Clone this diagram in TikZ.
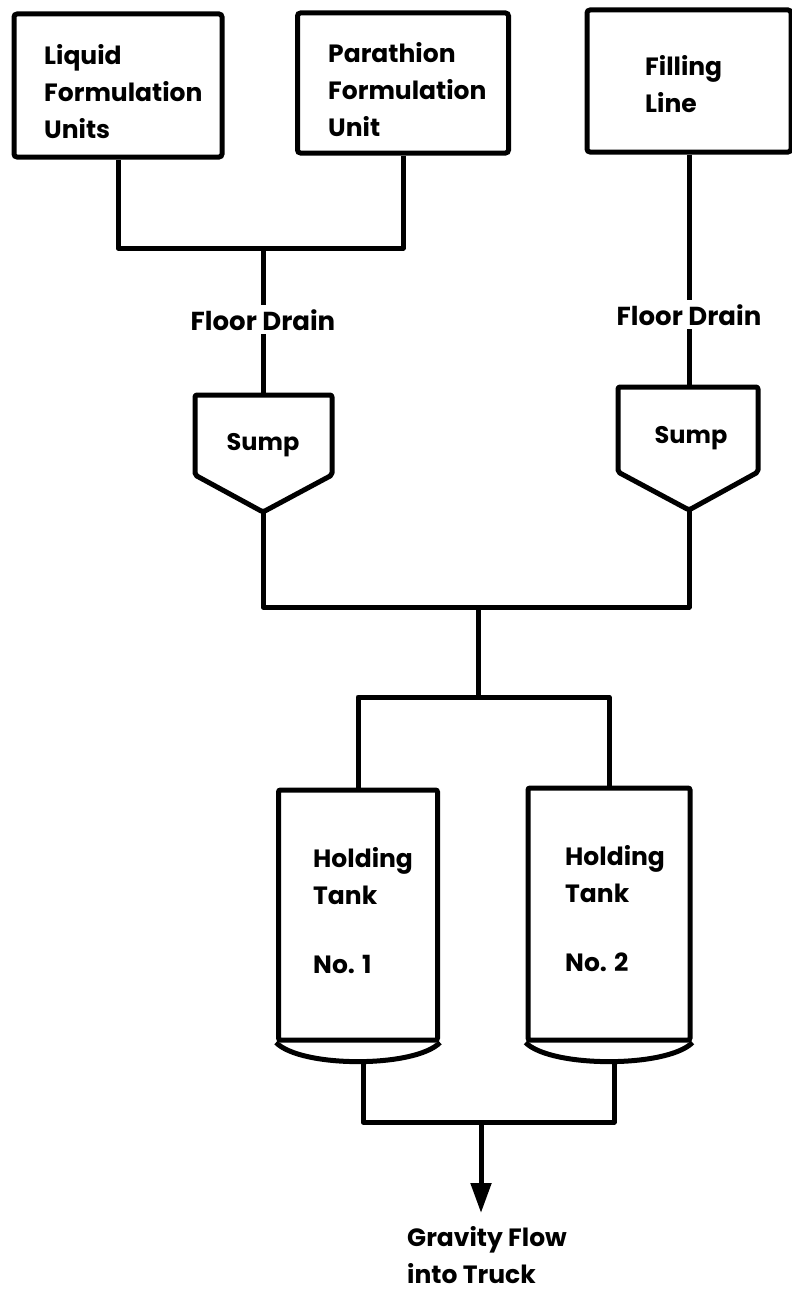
\documentclass[tikz,border=0pt]{standalone}
\usepackage{fontspec}
\setmainfont{Poppins}
\usetikzlibrary{arrows.meta}
\begin{document}
\begin{tikzpicture}[x=1pt,y=-1pt,
  pipe/.style={line width=5pt, line join=round},
  unit/.style={draw, line width=5pt, rounded corners=3pt, inner sep=0pt},
  lbl/.style={font=\bfseries\fontsize{25}{37}\selectfont, align=left, inner sep=0pt},
  tag/.style={font=\bfseries\fontsize{26}{36}\selectfont, inner sep=4pt},
  sumptext/.style={font=\bfseries\fontsize{24}{36}\selectfont, inner sep=4pt}]
\useasboundingbox (0,0) rectangle (792,1290);

% top units
\node[unit, minimum width=208pt, minimum height=143pt] (liq) at (118,85.5) {};
\node[lbl, anchor=north west] (liqt) at (44,44) {Liquid\\Formulation\\Units};
\node[unit, minimum width=211pt, minimum height=140pt] (par) at (403,83) {};
\node[lbl, anchor=north west] (part) at (328,42) {Parathion\\Formulation\\Unit};
\node[unit, minimum width=204pt, minimum height=142pt] (fil) at (689,81) {};
\node[lbl, anchor=north west] (filt) at (645,55) {Filling\\Line};

% floor drains
\node[tag, anchor=base] (fdL) at (263,330) {Floor Drain};
\node[tag, anchor=base] (fdR) at (689,325) {Floor Drain};

% sumps
\coordinate (sLtop) at (263,395);
\coordinate (sLbot) at (263,512);
\draw[pipe, rounded corners=2pt] (195,395) -- (332,395) -- (332,475) -- (sLbot) -- (195,475) -- cycle;
\node[sumptext] (sumpL) at (263,445) {Sump};
\coordinate (sRtop) at (689,387);
\coordinate (sRbot) at (689,510);
\draw[pipe, rounded corners=2pt] (618,387) -- (758,387) -- (758,472) -- (sRbot) -- (618,472) -- cycle;
\node[sumptext] (sumpR) at (691,438) {Sump};

% tanks
\node[unit, rounded corners=2pt, minimum width=159pt, minimum height=250pt] (tk1) at (358,915) {};
\node[unit, rounded corners=2pt, minimum width=162pt, minimum height=252pt] (tk2) at (609,914) {};
\draw[pipe] (tk1.south west) .. controls (301,1068) and (415,1068) .. (tk1.south east);
\draw[pipe] (tk2.south west) .. controls (551,1068) and (667,1068) .. (tk2.south east);
\coordinate (d1) at (363,1060);
\coordinate (d2) at (614,1060);
\node[lbl, anchor=north west] (tk1t) at (313,847) {Holding\\Tank\\[32pt]No. 1};
\node[lbl, anchor=north west] (tk2t) at (565,845) {Holding\\Tank\\[32pt]No. 2};

% output
\node[lbl, anchor=north west] (grav) at (407,1226) {Gravity Flow\\into Truck};

% connectors
\coordinate (j1) at (263,248);
\coordinate (j2) at (478,607);
\coordinate (j3) at (478,697);
\coordinate (j4) at (481,1122);
\draw[pipe] (liq.south) |- (j1) -| (par.south);
\draw[pipe] (j1) -- (fdL.north);
\draw[pipe] (fdL.south) -- (sLtop);
\draw[pipe] (fil.south) -- (fdR.north);
\draw[pipe] (fdR.south) -- (sRtop);
\draw[pipe] (sLbot) |- (j2) -| (sRbot);
\draw[pipe] (j2) -- (j3);
\draw[pipe] (tk1.north) |- (j3) -| (tk2.north);
\draw[pipe] (d1) |- (j4) -| (d2);
\draw[pipe, -{Triangle[length=30pt,width=20pt]}, shorten >=13pt] (j4) -- (j4 |- grav.north);
\end{tikzpicture}
\end{document}
